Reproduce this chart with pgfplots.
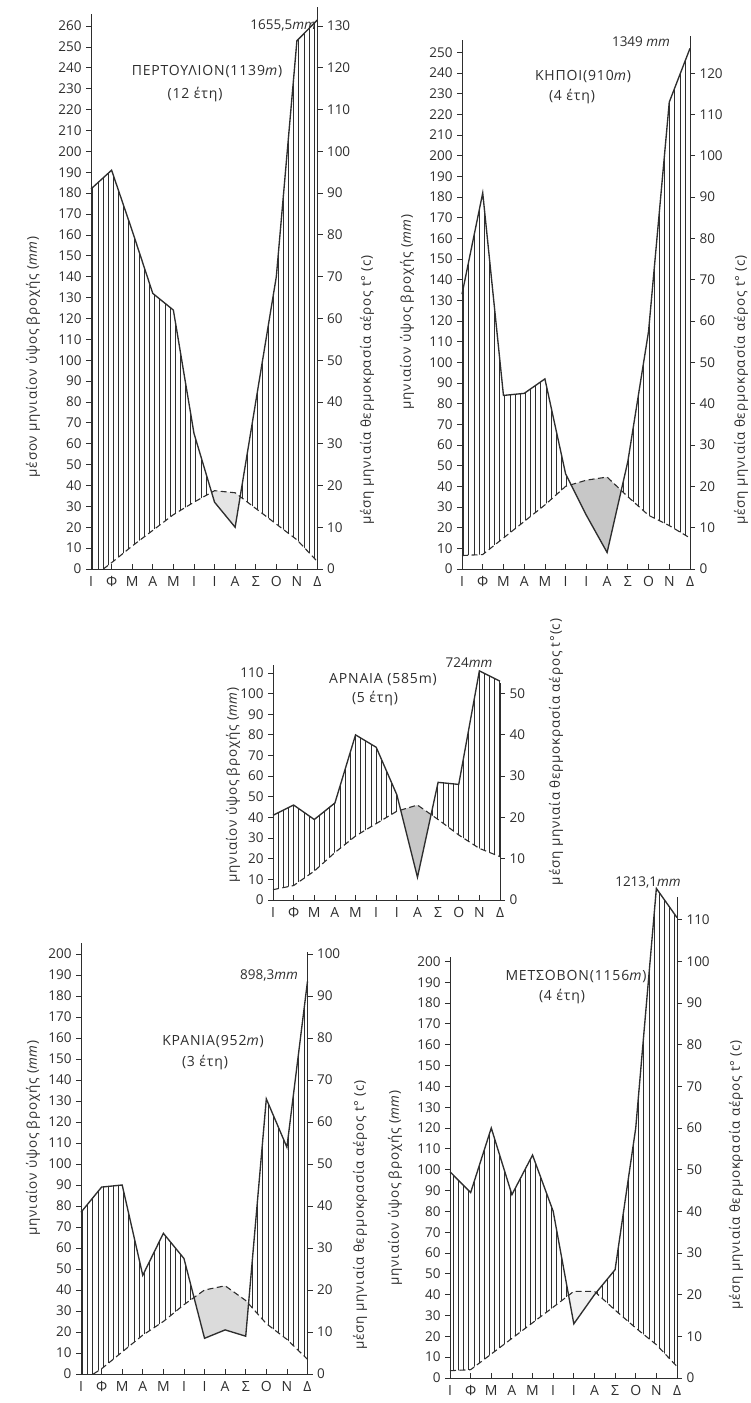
\documentclass[border=0pt]{standalone}
\usepackage{fontspec}
\setmainfont{Open Sans}
\newfontfamily\spaced[LetterSpace=6]{Open Sans}
\usepackage{pgfplots}
\usepackage{pgfplotstable}
\pgfplotsset{compat=1.18}
\usepgfplotslibrary{fillbetween}
\usetikzlibrary{patterns.meta}
\definecolor{ink}{gray}{0.18}
\newcommand\tk{\fontsize{13.5}{15}\selectfont}
\newcommand\lb{\spaced\fontsize{13.5}{16}\selectfont}
\newcommand\ttl{\spaced\fontsize{14}{16}\selectfont}

% ---------- data (mm; temperature plotted at 2x deg C) ----------
\pgfplotstableread{
m r
0 182
1 191
2 162
3 132
4 124
5 65
6 32
7 20
8 80
9 140
10 253
11 263
}\Prain
\pgfplotstableread{
m t
0 0
0.6 0
1 3
2 11
3 18.5
4 26
5 32
6 37.5
7 36.5
8 29
9 21.5
10 14
11 3.5
}\Ptemp
\pgfplotstableread{
m r
0 133
1 182
2 84
3 85
4 92
5 46
6 26
7 8
8 52
9 115
10 226
11 252
}\Krain
\pgfplotstableread{
m t
0 6.5
1 7
2 15
3 23
4 31
5 40
6 43
7 44.5
8 35
9 26
10 21
11 15
}\Ktemp
\pgfplotstableread{
m r
0 41
1 46
2 39
3 47
4 80
5 74
6 51
7 11
8 57
9 56
10 111
11 106
}\Arain
\pgfplotstableread{
m t
0 5
1 7
2 14
3 23
4 31
5 37
6 43
7 46
8 39
9 31.5
10 25
11 21
}\Atemp
\pgfplotstableread{
m r
0 77
1 89
2 90
3 47
4 67
5 55
6 17
7 21
8 18
9 131
10 108
11 187
}\Rrain
\pgfplotstableread{
m t
0 0
0.6 0
1 2.5
2 10.5
3 18.5
4 25
5 33
6 40
7 42
8 35
9 24
10 16.5
11 7
}\Rtemp
\pgfplotstableread{
m r
0 99
1 89
2 120
3 88
4 107
5 80
6 26
7 40
8 52
9 120
10 235
11 221
}\Mrain
\pgfplotstableread{
m t
0 3.5
1 4
2 11.5
3 19
4 26.5
5 34
6 41.6
7 41.6
8 32.6
9 24
10 16
11 5.5
}\Mtemp

\pgfplotsset{
  base/.style={scale only axis, xmin=0, xmax=11, ymin=0, clip=false,
    anchor=south west,
    axis line style={ink, line width=0.9pt},
    tick style={ink, line width=0.8pt},
    major tick length=5pt,
    tick label style={font=\tk, text=ink},
    /pgf/number format/assume math mode=true},
  leftax/.style={base, axis x line=none, axis y line*=left, tick align=outside, ytick distance=10,
    yticklabel style={xshift=-1pt}},
  rightax/.style={base, axis x line=none, axis y line*=right, tick align=outside, ytick distance=10,
    yticklabel style={xshift=1pt}},
  xax/.style={base, axis x line*=bottom, axis y line=none, tick align=inside,
    ymax=1, height=50pt, xtick={0,...,11},
    xticklabels={Ι,Φ,Μ,Α,Μ,Ι,Ι,Α,Σ,Ο,Ν,Δ},
    xticklabel style={yshift=-4pt, font=\fontsize{14}{16}\selectfont}},
  rain/.style={ink, line width=1.35pt, mark=none},
  temp/.style={ink, line width=1.1pt, dash pattern=on 6pt off 3.5pt, mark=none},
  hatch/.style={pattern={Lines[angle=90,distance=5.15pt,line width=0.55pt]}, pattern color=ink},
}
\newcommand\dummy{\addplot[draw=none, mark=none] coordinates {(0,0) (11,0)};}

\begin{document}
\begin{tikzpicture}[x=1pt,y=1pt]

% ================= ΠΕΡΤΟΥΛΙΟΝ =================
\begin{axis}[leftax, at={(91pt,834pt)}, width=226.5pt, height=555.4pt, ymax=266]
  \addplot[draw=none, name path=r] table[x=m,y=r]{\Prain};
  \addplot[draw=none, name path=t] table[x=m,y=t]{\Ptemp};
  \addplot[draw=none] fill between[of=r and t, split,
     every even segment/.style={hatch},
     every odd segment/.style={fill=black!10}];
  \addplot[temp] table[x=m,y=t, skip coords between index={0}{1}]{\Ptemp};
  \addplot[rain] table[x=m,y=r]{\Prain};
\end{axis}
\begin{axis}[xax, at={(91pt,834pt)}, width=226.5pt]
\dummy
\end{axis}
\begin{axis}[rightax, at={(91pt,834pt)}, width=226.5pt, height=561.7pt, ymax=134.5]
\dummy
\end{axis}

% ================= ΚΗΠΟΙ =================
\begin{axis}[leftax, at={(462pt,834pt)}, width=228pt, height=528.9pt, ymax=256]
  \addplot[draw=none, name path=r] table[x=m,y=r]{\Krain};
  \addplot[draw=none, name path=t] table[x=m,y=t]{\Ktemp};
  \addplot[draw=none] fill between[of=r and t, split,
     every even segment/.style={hatch},
     every odd segment/.style={fill=black!22}];
  \addplot[temp] table[x=m,y=t]{\Ktemp};
  \addplot[rain] table[x=m,y=r]{\Krain};
\end{axis}
\begin{axis}[xax, at={(462pt,834pt)}, width=228pt]
\dummy
\end{axis}
\begin{axis}[rightax, at={(462pt,834pt)}, width=228pt, height=533pt, ymax=129]
\dummy
\end{axis}

% ================= ΑΡΝΑΙΑ =================
\begin{axis}[leftax, at={(273pt,503pt)}, width=227pt, height=235.3pt, ymax=114]
  \addplot[draw=none, name path=r] table[x=m,y=r]{\Arain};
  \addplot[draw=none, name path=t] table[x=m,y=t]{\Atemp};
  \addplot[draw=none] fill between[of=r and t, split,
     every even segment/.style={hatch},
     every odd segment/.style={fill=black!22}];
  \addplot[temp] table[x=m,y=t]{\Atemp};
  \addplot[rain] table[x=m,y=r]{\Arain};
\end{axis}
\begin{axis}[xax, at={(273pt,503pt)}, width=227pt]
\dummy
\end{axis}
\begin{axis}[rightax, at={(273pt,503pt)}, width=227pt, height=216.7pt, ymax=52.5]
\dummy
\end{axis}

% ================= ΚΡΑΝΙΑ =================
\begin{axis}[leftax, at={(81pt,29pt)}, width=226.5pt, height=430.5pt, ymax=205]
  \addplot[draw=none, name path=r] table[x=m,y=r]{\Rrain};
  \addplot[draw=none, name path=t] table[x=m,y=t]{\Rtemp};
  \addplot[draw=none] fill between[of=r and t, split,
     every even segment/.style={hatch},
     every odd segment/.style={fill=black!14}];
  \addplot[temp] table[x=m,y=t, skip coords between index={0}{1}]{\Rtemp};
  \addplot[rain] table[x=m,y=r]{\Rrain};
\end{axis}
\begin{axis}[xax, at={(81pt,29pt)}, width=226.5pt]
\dummy
\end{axis}
\begin{axis}[rightax, at={(81pt,29pt)}, width=226.5pt, height=422.1pt, ymax=100.5]
\dummy
\end{axis}

% ================= ΜΕΤΣΟΒΟΝ =================
\begin{axis}[leftax, at={(450pt,25pt)}, width=227pt, height=420.8pt, ymax=202]
  \addplot[draw=none, name path=r] table[x=m,y=r]{\Mrain};
  \addplot[draw=none, name path=t] table[x=m,y=t]{\Mtemp};
  \addplot[draw=none] fill between[of=r and t, split,
     every even segment/.style={hatch},
     every odd segment/.style={fill=black!5}];
  \addplot[temp] table[x=m,y=t]{\Mtemp};
  \addplot[rain] table[x=m,y=r]{\Mrain};
\end{axis}
\begin{axis}[xax, at={(450pt,25pt)}, width=227pt]
\dummy
\end{axis}
\begin{axis}[rightax, at={(450pt,25pt)}, width=227pt, height=481.2pt, ymax=115.5]
\dummy
\end{axis}

% ---------- axis titles ----------
\begin{scope}[every node/.style={font=\lb, text=ink, inner sep=0pt}]
\node[rotate=90] at (33,1046) {μέσον μηνιαίον ύψος βροχής (\textit{mm})};
\node[rotate=90] at (367,1013) {μέση μηνιαία θερμοκρασία αέρος t° (c)};
\node[rotate=90] at (407,1091) {μηνιαίον ύψος βροχής (\textit{mm})};
\node[rotate=90] at (741,1013) {μέση μηνιαία θερμοκρασία αέρος t° (c)};
\node[rotate=90] at (233,618) {μηνιαίον ύψος βροχής (\textit{mm})};
\node[rotate=90] at (556,651) {μέση μηνιαία θερμοκρασία αέρος t°(c)};
\node[rotate=90] at (33,265) {μηνιαίον ύψος βροχής (\textit{mm})};
\node[rotate=90] at (360,188) {μέση μηνιαία θερμοκρασία αέρος t° (c)};
\node[rotate=90] at (395,215) {μηνιαίον ύψος βροχής (\textit{mm})};
\node[rotate=90] at (736,228) {μέση μηνιαία θερμοκρασία αέρος t° (c)};
\end{scope}
\begin{scope}[every node/.style={font=\ttl, text=ink, inner sep=0pt}]
% station titles
\node at (207,1331) {ΠΕΡΤΟΥΛΙΟΝ(1139\textit{m})};
\node at (195,1308) {(12 έτη)};
\node at (583,1326) {ΚΗΠΟΙ(910\textit{m})};
\node at (572,1306) {(4 έτη)};
\node at (383,723) {ΑΡΝΑΙΑ (585m)};
\node at (375,704) {(5 έτη)};
\node at (213,361) {ΚΡΑΝΙΑ(952\textit{m})};
\node at (205,340) {(3 έτη)};
\node at (576,426) {ΜΕΤΣΟΒΟΝ(1156\textit{m})};
\node at (562,406) {(4 έτη)};
\end{scope}
\begin{scope}[every node/.style={font=\fontsize{13.5}{16}\selectfont, text=ink, inner sep=0pt}]
% annual totals
\node[anchor=east] at (316,1378) {1655,5\textit{mm}};
\node at (641,1361) {1349 \textit{mm}};
\node at (469,740) {724\textit{mm}};
\node at (269,428) {898,3\textit{mm}};
\node at (648,521) {1213,1\textit{mm}};
\end{scope}
\pgfresetboundingbox
\path[use as bounding box] (0,0) rectangle (750,1403);
\end{tikzpicture}
\end{document}
